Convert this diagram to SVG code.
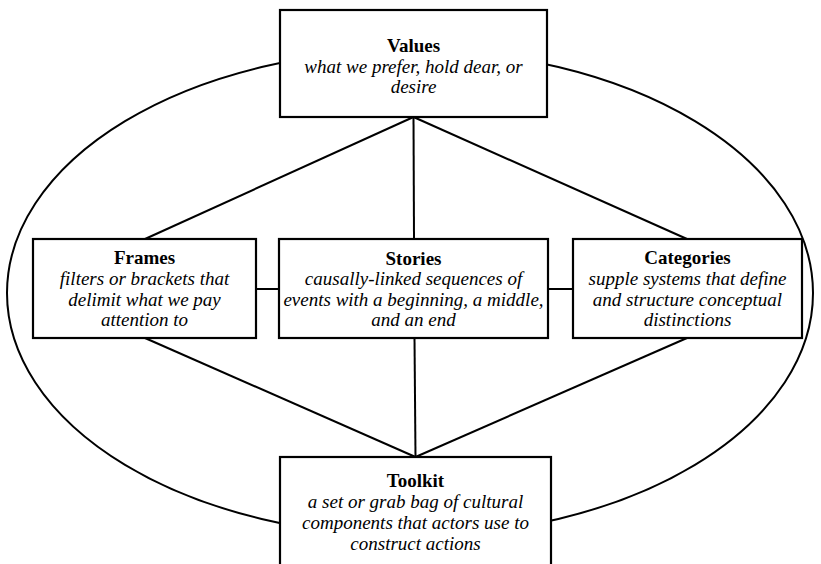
<svg xmlns="http://www.w3.org/2000/svg" width="821" height="564" viewBox="0 0 821 564">
<style>
.box{fill:#fff;stroke:#000;stroke-width:2.2}
.ln{fill:none;stroke:#000;stroke-width:2}
</style>
<rect width="821" height="564" fill="#fff"/>
<g id="connectors">
<ellipse class="ln" cx="410" cy="293" rx="403" ry="243"/>
<line class="ln" x1="413.5" y1="117" x2="145" y2="239"/>
<line class="ln" x1="413.5" y1="117" x2="414" y2="239"/>
<line class="ln" x1="413.5" y1="117" x2="687" y2="239"/>
<line class="ln" x1="256" y1="289" x2="279" y2="289"/>
<line class="ln" x1="548" y1="289" x2="573" y2="289"/>
<line class="ln" x1="145" y1="338" x2="415.5" y2="457"/>
<line class="ln" x1="414.5" y1="338" x2="415.5" y2="457"/>
<line class="ln" x1="687" y1="338" x2="415.5" y2="457"/>
</g>
<g font-family="Liberation Serif" font-size="19px" text-anchor="middle" fill="#000">
<g id="values">
<rect class="box" x="280" y="10" width="267" height="107"/>
<text x="413.5" y="52" font-weight="bold">Values</text>
<text x="413.5" y="72.5" font-style="italic">what we prefer, hold dear, or</text>
<text x="413.5" y="93" font-style="italic">desire</text>
</g>
<g id="frames">
<rect class="box" x="33" y="239" width="223" height="99"/>
<text x="144.5" y="264" font-weight="bold">Frames</text>
<text x="144.5" y="285" font-style="italic">filters or brackets that</text>
<text x="144.5" y="305.5" font-style="italic">delimit what we pay</text>
<text x="144.5" y="326" font-style="italic">attention to</text>
</g>
<g id="stories">
<rect class="box" x="279" y="239" width="269" height="99"/>
<text x="413.5" y="264.5" font-weight="bold">Stories</text>
<text x="413.5" y="285" font-style="italic">causally-linked sequences of</text>
<text x="413.5" y="305.5" font-style="italic">events with a beginning, a middle,</text>
<text x="413.5" y="326" font-style="italic">and an end</text>
</g>
<g id="categories">
<rect class="box" x="573" y="239" width="229" height="99"/>
<text x="687.5" y="264" font-weight="bold">Categories</text>
<text x="687.5" y="285" font-style="italic">supple systems that define</text>
<text x="687.5" y="305.5" font-style="italic">and structure conceptual</text>
<text x="687.5" y="326" font-style="italic">distinctions</text>
</g>
<g id="toolkit">
<rect class="box" x="280" y="457" width="271" height="120"/>
<text x="415.5" y="487" font-weight="bold">Toolkit</text>
<text x="415.5" y="508" font-style="italic">a set or grab bag of cultural</text>
<text x="415.5" y="529" font-style="italic">components that actors use to</text>
<text x="415.5" y="550" font-style="italic">construct actions</text>
</g>
</g>
</svg>
